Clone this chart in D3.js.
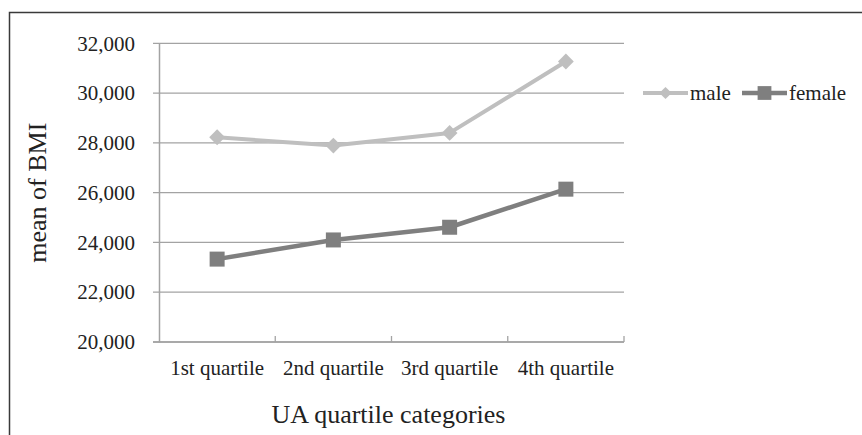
<!DOCTYPE html>
<html>
<head>
<meta charset="utf-8">
<script src="https://cdn.jsdelivr.net/npm/d3@7/dist/d3.min.js"></script>
<style>
  html, body { margin: 0; padding: 0; background: #fff; }
  svg { display: block; }
  text { font-family: "Liberation Serif", "Times New Roman", serif; fill: #222; }
</style>
</head>
<body>
<svg id="chart" width="862" height="435"></svg>
<script>
// Mean BMI by UA quartile, split by sex
const categories = ["1st quartile", "2nd quartile", "3rd quartile", "4th quartile"];
const maleValues = [28225, 27890, 28400, 31270];
const femaleValues = [23330, 24100, 24610, 26140];
const yTicks = [20000, 22000, 24000, 26000, 28000, 30000, 32000];
const seriesNames = ["male", "female"];

const W = 862, H = 435;
const margin = { left: 159, top: 43.3, right: 238, bottom: 93 };
const innerW = W - margin.left - margin.right;   // 465
const innerH = H - margin.top - margin.bottom;   // ~298.7

const svg = d3.select("#chart");

// outer chart frame (runs off the right and bottom edges)
svg.append("path")
  .attr("d", `M9.5,${H + 2} V12.5 H${W + 2}`)
  .attr("fill", "none")
  .attr("stroke", "#3a3a3a")
  .attr("stroke-width", 1.5);

const g = svg.append("g").attr("transform", `translate(${margin.left},${margin.top})`);

const x = d3.scaleBand().domain(categories).range([0, innerW]);
const y = d3.scaleLinear().domain([20000, 32000]).range([innerH, 0]);

const gridColor = "#a3a3a3";

// horizontal gridlines, reaching slightly left of the axis as tick marks
g.append("g")
  .selectAll("line")
  .data(yTicks)
  .join("line")
  .attr("x1", -6)
  .attr("x2", innerW)
  .attr("y1", d => y(d))
  .attr("y2", d => y(d))
  .attr("stroke", gridColor)
  .attr("stroke-width", 1.3);

// y axis
const yAxis = g.append("g")
  .call(d3.axisLeft(y).tickValues(yTicks).tickFormat(d3.format(",")).tickSize(0).tickSizeOuter(0).tickPadding(24));
yAxis.select(".domain").attr("stroke", gridColor).attr("stroke-width", 1.5);
yAxis.selectAll("text").attr("font-size", 21).attr("font-family", null).attr("fill", "#222");

// x axis: labels at band centres, tick marks at band boundaries pointing up
const xAxis = g.append("g")
  .attr("transform", `translate(0,${innerH})`)
  .call(d3.axisBottom(x).tickSize(0).tickSizeOuter(0).tickPadding(18));
xAxis.select(".domain").remove();
xAxis.selectAll("text").attr("font-size", 21).attr("font-family", null).attr("fill", "#222");

g.append("line")
  .attr("x1", -6).attr("x2", innerW)
  .attr("y1", innerH).attr("y2", innerH)
  .attr("stroke", gridColor).attr("stroke-width", 1.5);

const boundaries = categories.map(c => x(c)).concat([x(categories[categories.length - 1]) + x.bandwidth()]);
g.append("g")
  .selectAll("line")
  .data(boundaries.slice(1))
  .join("line")
  .attr("x1", d => d).attr("x2", d => d)
  .attr("y1", innerH).attr("y2", innerH - 6)
  .attr("stroke", gridColor).attr("stroke-width", 1.3);

// axis titles
svg.append("text")
  .attr("x", margin.left + innerW / 2 - 3)
  .attr("y", 423)
  .attr("text-anchor", "middle")
  .attr("font-size", 26)
  .text("UA quartile categories");

svg.append("text")
  .attr("transform", `translate(46,${margin.top + innerH / 2}) rotate(-90)`)
  .attr("text-anchor", "middle")
  .attr("font-size", 26)
  .text("mean of BMI");

// series
const series = [
  { name: seriesNames[0], values: maleValues, color: "#bfbfbf", width: 4, shape: "diamond" },
  { name: seriesNames[1], values: femaleValues, color: "#7f7f7f", width: 4.5, shape: "square" }
];

const cx = c => x(c) + x.bandwidth() / 2;
const line = d3.line().x(d => cx(d.cat)).y(d => y(d.v));

const diamond = d3.symbol(d3.symbolSquare, 125);
const square = d3.symbol(d3.symbolSquare, 225);

series.forEach(s => {
  const pts = categories.map((c, i) => ({ cat: c, v: s.values[i] }));
  g.append("path")
    .datum(pts)
    .attr("d", line)
    .attr("fill", "none")
    .attr("stroke", s.color)
    .attr("stroke-width", s.width)
    .attr("stroke-linejoin", "round");
  g.append("g")
    .selectAll("path")
    .data(pts)
    .join("path")
    .attr("d", s.shape === "diamond" ? diamond : square)
    .attr("transform", d => `translate(${cx(d.cat)},${y(d.v)})` + (s.shape === "diamond" ? " rotate(45)" : ""))
    .attr("fill", s.color);
});

// legend
const legend = svg.append("g").attr("transform", "translate(643,93)");
const legendItems = [
  { s: series[0], x0: 0, sym: d3.symbol(d3.symbolSquare, 75), rot: 45 },
  { s: series[1], x0: 99, sym: d3.symbol(d3.symbolSquare, 190), rot: 0 }
];
legendItems.forEach(it => {
  const item = legend.append("g").attr("transform", `translate(${it.x0},0)`);
  item.append("line")
    .attr("x1", 0).attr("x2", 45).attr("y1", 0).attr("y2", 0)
    .attr("stroke", it.s.color).attr("stroke-width", it.s.width);
  item.append("path")
    .attr("d", it.sym)
    .attr("transform", `translate(22.5,0) rotate(${it.rot})`)
    .attr("fill", it.s.color);
  item.append("text")
    .attr("x", 47)
    .attr("dy", "0.35em")
    .attr("font-size", 21)
    .text(it.s.name);
});
</script>
</body>
</html>
